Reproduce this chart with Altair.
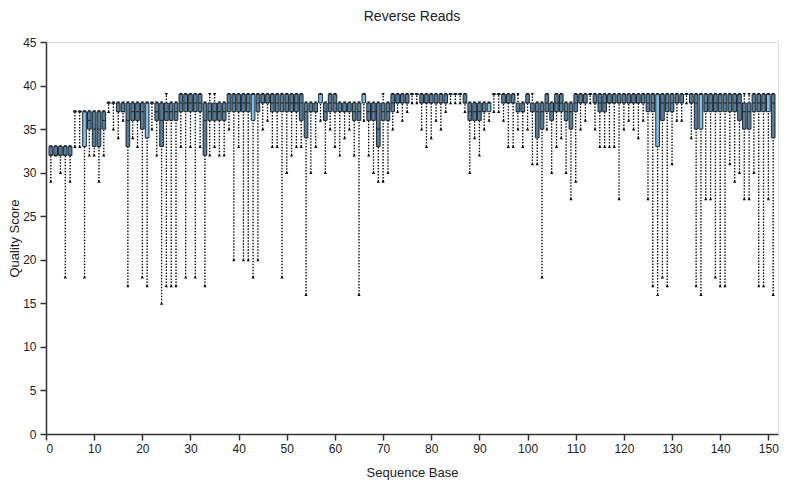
import altair as alt
import pandas as pd

bases = list(range(1, 152))
q1 = [32,32,32,32,32,37,37,33,35,33,33,35,38,38,37,37,33,36,36,35,
      34,38,36,33,36,36,36,37,37,37,37,37,32,36,36,36,36,37,37,37,
      37,37,36,37,38,38,37,37,37,37,37,37,36,34,37,37,38,36,37,37,
      37,37,37,36,36,38,36,36,33,36,36,37,38,38,38,39,39,38,38,38,
      38,38,38,39,39,39,38,36,36,36,37,37,39,39,38,38,38,37,37,38,
      37,34,35,37,36,37,37,36,35,37,38,38,39,38,37,37,38,38,38,38,
      38,38,38,38,37,37,33,36,37,37,38,38,39,38,35,35,37,37,37,37,
      37,37,37,36,35,35,37,37,37,37,34]
med = [32,32,32,32,32,37,37,37,36,35,35,36,38,38,37,37,36,37,37,37,
       38,38,37,36,37,37,37,38,38,38,38,38,36,37,37,37,37,38,38,38,
       38,38,39,38,38,38,38,38,38,38,38,38,38,37,37,37,39,37,38,38,
       37,37,37,37,37,39,37,37,35,37,37,38,38,38,38,39,39,38,38,38,
       38,38,38,39,39,39,38,37,37,37,37,38,39,39,38,38,38,37,37,38,
       37,37,37,38,37,38,38,37,37,38,38,38,39,38,38,38,38,38,38,38,
       38,38,38,38,38,38,39,38,38,38,38,38,39,38,38,39,38,38,38,38,
       38,38,38,38,37,37,38,38,38,39,38]
q3 = [33,33,33,33,33,37,37,37,37,37,37,37,38,38,38,38,38,38,38,38,
      38,38,38,38,38,38,38,39,39,39,39,39,38,38,38,38,38,39,39,39,
      39,39,39,39,39,39,39,39,39,39,39,39,39,38,38,38,39,38,39,39,
      38,38,38,38,38,39,38,38,38,38,38,39,39,39,39,39,39,39,39,39,
      39,39,39,39,39,39,39,38,38,38,38,38,39,39,39,39,39,38,38,39,
      38,38,38,39,38,39,39,38,38,39,39,39,39,39,39,39,39,39,39,39,
      39,39,39,39,39,39,39,39,39,39,39,39,39,39,39,39,39,39,39,39,
      39,39,39,39,38,38,39,39,39,39,39]
lo = [29,32,30,18,29,33,33,18,32,32,29,32,37,35,34,36,17,34,33,18,
      17,35,32,15,17,17,17,33,18,33,18,33,17,32,33,32,32,35,20,33,
      20,20,18,20,35,36,33,33,18,30,32,33,33,16,30,33,36,30,35,33,
      32,34,35,32,16,36,32,30,29,29,30,35,37,36,37,38,38,35,33,34,
      36,35,37,38,38,38,37,30,34,32,35,36,37,37,36,33,33,35,33,35,
      31,31,18,35,30,33,34,30,27,29,35,36,38,35,33,33,33,33,27,35,
      36,35,34,36,27,17,16,18,17,31,36,36,38,34,17,16,27,27,18,17,
      17,31,29,30,27,27,30,17,17,27,16]
hi = [33,33,33,33,33,37,37,37,37,37,37,37,38,38,38,38,38,38,38,38,
      38,38,38,38,39,38,38,39,39,39,39,39,38,39,39,38,38,39,39,39,
      39,39,39,39,39,39,39,39,39,39,39,39,39,38,38,38,39,38,39,39,
      38,38,38,38,38,39,38,38,38,39,38,39,39,39,39,39,39,39,39,39,
      39,39,39,39,39,39,39,38,38,38,38,38,39,39,39,39,39,39,38,39,
      39,38,38,39,38,39,39,38,38,39,39,39,39,39,39,39,39,39,39,39,
      39,39,39,39,39,39,39,39,39,39,39,39,39,39,39,39,39,39,39,39,
      39,39,39,39,39,39,39,39,39,39,39]

df = pd.DataFrame({"base": bases, "q1": q1, "med": med, "q3": q3, "lo": lo, "hi": hi})

base = alt.Chart(df).transform_calculate(
    xl="datum.base - 0.38", xr="datum.base + 0.38",
    top="(datum.med == datum.q3 && datum.q3 > datum.q1) ? 'upper' : 'inner'"
)

xscale = alt.Scale(domain=[0, 152], nice=False, zero=False)
yscale = alt.Scale(domain=[0, 45], nice=False)

common = dict(grid=False, labelFontSize=12, titleFontSize=13, titleFontWeight="normal",
              domainColor="#333", tickColor="#333", domainWidth=1.5, tickWidth=1.5,
              labelColor="#222", titleColor="#222", tickSize=6)
xaxis = alt.Axis(values=list(range(0, 151, 10)), title="Sequence Base",
                 titlePadding=12, labelPadding=3, **common)
yaxis = alt.Axis(values=list(range(0, 46, 5)), title="Quality Score",
                 titlePadding=1, labelPadding=4, **common)

whisk = base.mark_rule(color="black", strokeDash=[1.5, 1.5], strokeWidth=1.3).encode(
    x=alt.X("base:Q", scale=xscale, axis=xaxis),
    y=alt.Y("lo:Q", scale=yscale, axis=yaxis),
    y2="hi:Q",
)
lo_pt = base.mark_point(shape="triangle-up", filled=True, color="black", size=10, opacity=1).encode(
    x="base:Q", y="lo:Q")
hi_pt = base.mark_point(shape="triangle-down", filled=True, color="black", size=10, opacity=1).encode(
    x="base:Q", y="hi:Q")
box = base.mark_rect(stroke="#1e2a33", strokeWidth=1).encode(
    x="xl:Q", x2="xr:Q", y="q1:Q", y2="q3:Q",
    fill=alt.Fill("top:N", scale=alt.Scale(domain=["inner", "upper"], range=["#587c98", "#86bde4"]),
                  legend=None))
medr = base.mark_rule(color="#1e2a33", strokeWidth=1).encode(
    x="xl:Q", x2="xr:Q", y="med:Q")

chart = alt.layer(whisk, lo_pt, hi_pt, box, medr).properties(
    width=732, height=392,
    title=alt.TitleParams("Reverse Reads", fontSize=14, fontWeight="normal", color="#222", offset=12),
    autosize=alt.AutoSizeParams(type="none"),
    padding={"left": 38, "top": 34, "right": 1, "bottom": 47},
).configure_view(stroke=None).configure(font="Liberation Sans")

chart.save("out.html", embed_options={"renderer": "svg", "actions": False})
